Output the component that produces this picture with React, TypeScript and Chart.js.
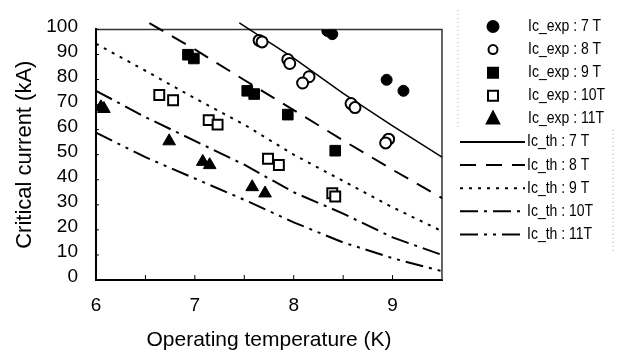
import React, { useEffect, useRef } from 'react';
import { Chart, registerables } from 'chart.js';

Chart.register(...registerables);

// ---- Data ----
const xTickValues = [6, 7, 8, 9];
const yTickValues = [0, 10, 20, 30, 40, 50, 60, 70, 80, 90, 100];

const exp7X = [8.34, 8.39, 8.94, 9.11];
const exp7Y = [99.4, 98.1, 79.9, 75.5];

const exp8X = [7.65, 7.68, 7.94, 7.96, 8.155, 8.09, 8.58, 8.62, 8.96, 8.93];
const exp8Y = [95.6, 95.0, 88.0, 86.4, 81.1, 78.6, 70.4, 68.8, 56.2, 54.7];

const exp9X = [6.93, 6.99, 7.53, 7.6, 7.94, 8.42];
const exp9Y = [89.9, 88.4, 75.5, 74.2, 66.0, 51.6];

const exp10X = [6.64, 6.78, 7.14, 7.23, 7.74, 7.85, 8.39, 8.42];
const exp10Y = [73.8, 71.7, 63.8, 62.0, 48.4, 45.9, 34.6, 33.3];

const exp11X = [6.05, 6.08, 6.74, 7.08, 7.15, 7.58, 7.71];
const exp11Y = [69.0, 68.3, 55.4, 47.2, 45.9, 37.1, 34.6];

const th7X = [7.45, 8, 8.5, 9, 9.5];
const th7Y = [102.6, 88.5, 74.5, 61.5, 49];

const th8X = [6.54, 7, 7.5, 8, 8.5, 9, 9.5];
const th8Y = [102.5, 92, 79.8, 67.8, 55.7, 44, 32.7];

const th9X = [6, 6.5, 7, 7.5, 8, 8.5, 9, 9.5];
const th9Y = [94.3, 83.5, 72.5, 62, 50, 39.5, 29, 19.5];

const th10X = [6, 6.5, 7, 7.5, 8, 8.5, 9, 9.5];
const th10Y = [75.5, 65, 55.5, 46, 35, 26.5, 17, 10];

const th11X = [6, 6.5, 7, 7.5, 8, 8.5, 9, 9.5];
const th11Y = [58.8, 49, 40.5, 32, 23, 15, 8.7, 3.5];

const seriesLabels = [
  'Ic_exp : 7 T', 'Ic_exp : 8 T', 'Ic_exp : 9 T', 'Ic_exp : 10T', 'Ic_exp : 11T',
  'Ic_th : 7 T', 'Ic_th : 8 T', 'Ic_th : 9 T', 'Ic_th : 10T', 'Ic_th : 11T',
];

const pts = (xs: number[], ys: number[]) => xs.map((x, i) => ({ x, y: ys[i] }));

const FONT = '"Liberation Sans", Arial, sans-serif';

function drawMarker(ctx: CanvasRenderingContext2D, style: string, filled: boolean, x: number, y: number, r: number) {
  ctx.beginPath();
  if (style === 'circle') {
    ctx.arc(x, y, r, 0, Math.PI * 2);
  } else if (style === 'rect') {
    ctx.rect(x - r, y - r, 2 * r, 2 * r);
  } else {
    ctx.moveTo(x, y - r * 1.1);
    ctx.lineTo(x + r * 0.95, y + r * 0.7);
    ctx.lineTo(x - r * 0.95, y + r * 0.7);
    ctx.closePath();
  }
  ctx.fillStyle = filled ? '#000' : '#fff';
  ctx.fill();
  ctx.lineWidth = 2;
  ctx.strokeStyle = '#000';
  ctx.stroke();
}

const decorPlugin = {
  id: 'decor',
  beforeDatasetsDraw(chart: any) {
    const { ctx, chartArea } = chart;
    const { left, right, top, bottom } = chartArea;
    ctx.save();
    ctx.strokeStyle = '#333';
    ctx.lineWidth = 1.5;
    ctx.beginPath();
    ctx.moveTo(left, top);
    ctx.lineTo(right, top);
    ctx.lineTo(right, bottom);
    ctx.stroke();
    // inner tick marks
    ctx.strokeStyle = '#000';
    ctx.lineWidth = 1;
    const ys = chart.scales.y;
    const xs = chart.scales.x;
    yTickValues.forEach((v) => {
      const p = ys.getPixelForValue(v);
      ctx.beginPath();
      ctx.moveTo(left, p);
      ctx.lineTo(left + 3, p);
      ctx.stroke();
    });
    for (let v = 6.5; v <= 9.01; v += 0.5) {
      const p = xs.getPixelForValue(v);
      ctx.beginPath();
      ctx.moveTo(p, bottom);
      ctx.lineTo(p, bottom - 5);
      ctx.stroke();
    }
    ctx.restore();
  },
  afterDraw(chart: any) {
    const { ctx } = chart;
    ctx.save();
    // faint legend frame remnants
    ctx.strokeStyle = '#aaa';
    ctx.lineWidth = 1;
    ctx.setLineDash([1, 3]);
    ctx.beginPath();
    ctx.moveTo(458, 10);
    ctx.lineTo(458, 130);
    ctx.moveTo(613, 130);
    ctx.lineTo(613, 252);
    ctx.stroke();
    ctx.setLineDash([]);
    const rowY0 = 26.5;
    const rowStep = 23.1;
    chart.data.datasets.forEach((ds: any, i: number) => {
      const y = rowY0 + i * rowStep;
      ctx.save();
      if (ds.showLine) {
        ctx.strokeStyle = '#000';
        ctx.lineWidth = 2;
        ctx.setLineDash(ds.borderDash || []);
        ctx.beginPath();
        ctx.moveTo(460, y);
        ctx.lineTo(525, y);
        ctx.stroke();
        ctx.setLineDash([]);
      } else {
        const filled = ds.pointBackgroundColor === '#000';
        const style = ds.pointStyle;
        const r = style === 'circle' ? (filled ? 5.5 : 4.5) : style === 'rect' ? 5 : 6.5;
        drawMarker(ctx, style, filled, 493, y, r);
      }
      ctx.fillStyle = '#000';
      ctx.font = `14px ${FONT}`;
      ctx.textBaseline = 'middle';
      ctx.textAlign = 'left';
      ctx.translate(ds.showLine ? 527 : 528, y);
      ctx.scale(1, 1.15);
      ctx.fillText(ds.label, 0, 0);
      ctx.restore();
    });
    ctx.restore();
  },
};

export default function App() {
  const canvasRef = useRef<HTMLCanvasElement | null>(null);

  useEffect(() => {
    const canvas = canvasRef.current;
    if (!canvas) return;

    const expDs = (label: string, xs: number[], ys: number[], style: string, filled: boolean, r: number) => ({
      label,
      data: pts(xs, ys),
      showLine: false,
      pointStyle: style,
      pointRadius: r,
      pointHoverRadius: r,
      pointBackgroundColor: filled ? '#000' : '#fff',
      pointBorderColor: '#000',
      pointBorderWidth: filled ? 1 : 2,
      backgroundColor: filled ? '#000' : '#fff',
      borderColor: '#000',
    });

    const thDs = (label: string, xs: number[], ys: number[], dash: number[], w: number) => ({
      label,
      data: pts(xs, ys),
      showLine: true,
      pointRadius: 0,
      pointHoverRadius: 0,
      borderColor: '#000',
      borderWidth: w,
      borderDash: dash,
      fill: false,
      tension: 0,
      clip: false,
    });

    const chart = new Chart(canvas, {
      type: 'scatter',
      data: {
        datasets: [
          expDs(seriesLabels[0], exp7X, exp7Y, 'circle', true, 5.5),
          expDs(seriesLabels[1], exp8X, exp8Y, 'circle', false, 5.5),
          expDs(seriesLabels[2], exp9X, exp9Y, 'rect', true, 7.5),
          expDs(seriesLabels[3], exp10X, exp10Y, 'rect', false, 7),
          expDs(seriesLabels[4], exp11X, exp11Y, 'triangle', true, 7.3),
          thDs(seriesLabels[5], th7X, th7Y, [], 1.5),
          thDs(seriesLabels[6], th8X, th8Y, [16, 10], 2),
          thDs(seriesLabels[7], th9X, th9Y, [3, 6], 2),
          thDs(seriesLabels[8], th10X, th10Y, [18, 6, 3, 6], 2),
          thDs(seriesLabels[9], th11X, th11Y, [18, 6, 3, 6, 3, 6], 2),
        ] as any,
      },
      options: {
        animation: false,
        responsive: false,
        devicePixelRatio: 1,
        layout: { padding: { left: 0, top: 15, right: 189, bottom: 0 } },
        plugins: {
          legend: { display: false },
          tooltip: { enabled: false },
        },
        scales: {
          x: {
            type: 'linear',
            min: 6,
            max: 9.5,
            afterFit: (s: any) => { s.height = 78; },
            afterBuildTicks: (s: any) => { s.ticks = xTickValues.map((v) => ({ value: v })); },
            ticks: {
              stepSize: 1,
              autoSkip: false,
              includeBounds: false,
              color: '#000',
              padding: 14,
              font: { family: FONT, size: 19 },
            },
            grid: { display: false, drawTicks: false },
            border: { display: true, color: '#000', width: 2 },
            title: {
              display: true,
              text: 'Operating temperature (K)',
              color: '#000',
              font: { family: FONT, size: 21 },
              padding: { top: 0, bottom: 5 },
            },
          },
          y: {
            type: 'linear',
            min: 0,
            max: 100,
            afterFit: (s: any) => { s.width = 96; },
            afterBuildTicks: (s: any) => { s.ticks = yTickValues.map((v) => ({ value: v })); },
            ticks: {
              stepSize: 10,
              autoSkip: false,
              color: '#000',
              padding: 18,
              labelOffset: -3,
              font: { family: FONT, size: 19 },
            },
            grid: { display: false, drawTicks: false },
            border: { display: true, color: '#000', width: 2 },
            title: {
              display: true,
              text: 'Critical current (kA)',
              color: '#000',
              font: { family: FONT, size: 22 },
              padding: { top: 12, bottom: 0 },
            },
          },
        },
      } as any,
      plugins: [decorPlugin],
    });

    return () => chart.destroy();
  }, []);

  return (
    <div style={{ position: 'absolute', left: 0, top: 0, width: 631, height: 358, background: '#fff' }}>
      <canvas ref={canvasRef} width={631} height={358} style={{ display: 'block' }} />
    </div>
  );
}
